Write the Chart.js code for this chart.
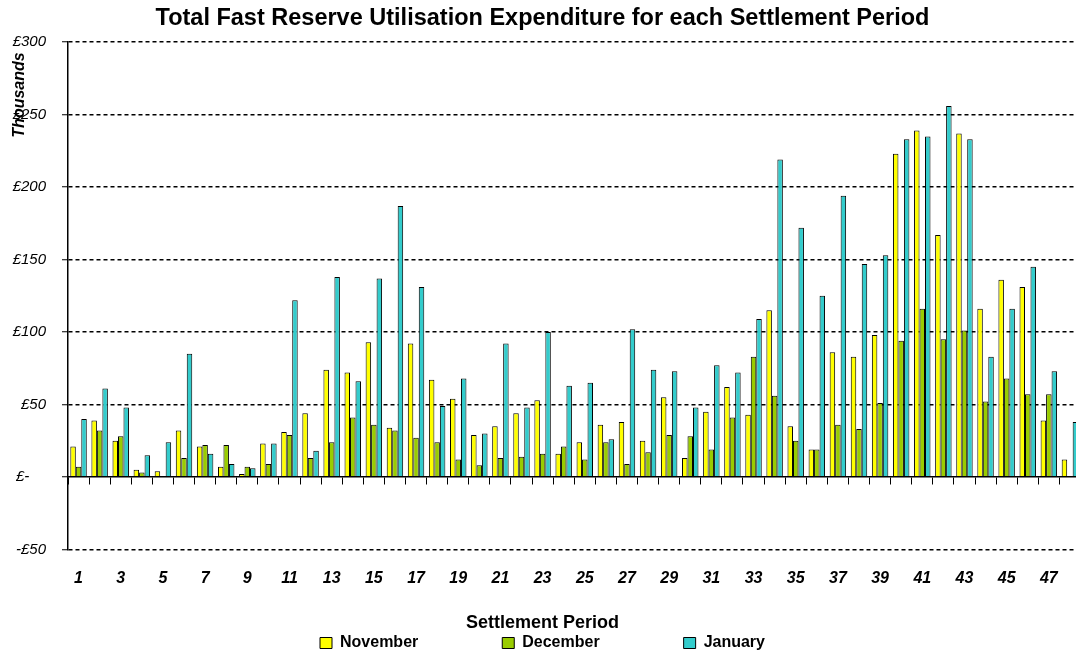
<!DOCTYPE html>
<html>
<head>
<meta charset="utf-8">
<title>Total Fast Reserve Utilisation Expenditure</title>
<script src="https://cdn.jsdelivr.net/npm/chart.js@4.4.0/dist/chart.umd.min.js"></script>
<style>
  body { margin: 0; background: #fff; }
  #wrap { position: relative; width: 1076px; height: 653px; overflow: hidden; }
</style>
</head>
<body>
<div id="wrap">
  <canvas id="chart" width="1090" height="661"></canvas>
</div>
<script>
// settlement periods 1..48
const periods = ['1','2','3','4','5','6','7','8','9','10','11','12','13','14','15','16',
  '17','18','19','20','21','22','23','24','25','26','27','28','29','30','31','32',
  '33','34','35','36','37','38','39','40','41','42','43','44','45','46','47','48'];

// values in £ thousands
const november = [21, 39, 25, 5, 4, 32, 21, 7, 2, 23, 31, 44, 74, 72, 93, 34,
  92, 67, 54, 29, 35, 44, 53, 16, 24, 36, 38, 25, 55, 13, 45, 62,
  43, 115, 35, 19, 86, 83, 98, 223, 239, 167, 237, 116, 136, 131, 39, 12];
const december = [7, 32, 28, 3, 0.5, 13, 22, 22, 7, 9, 29, 13, 24, 41, 36, 32,
  27, 24, 12, 8, 13, 14, 16, 21, 12, 24, 9, 17, 29, 28, 19, 41,
  83, 56, 25, 19, 36, 33, 51, 94, 116, 95, 101, 52, 68, 57, 57, 0.3];
const january = [40, 61, 48, 15, 24, 85, 16, 9, 6, 23, 122, 18, 138, 66, 137, 187,
  131, 49, 68, 30, 92, 48, 100, 63, 65, 26, 102, 74, 73, 48, 77, 72,
  109, 219, 172, 125, 194, 147, 153, 233, 235, 256, 233, 83, 116, 145, 73, 38];

const seriesNames = ['November', 'December', 'January'];
const seriesColors = ['#FFFF00', '#99CC00', '#33CCCC'];

const FONT = "'Liberation Sans', Arial, sans-serif";

// money format like the spreadsheet: £-, -£50, £100
function money(v) {
  if (v === 0) return '£-    ';
  if (v < 0) return '-£' + Math.abs(v);
  return '£' + v;
}

// the "Thousands" unit label sits up by the top of the value axis
const unitLabel = {
  id: 'unitLabel',
  afterDraw(chart) {
    const ctx = chart.ctx;
    ctx.save();
    ctx.translate(24, 95);
    ctx.rotate(-Math.PI / 2);
    ctx.font = 'italic bold 16px ' + FONT;
    ctx.fillStyle = '#000';
    ctx.textAlign = 'center';
    ctx.textBaseline = 'alphabetic';
    ctx.fillText('Thousands', 0, 0);
    ctx.restore();
  }
};

new Chart(document.getElementById('chart'), {
  type: 'bar',
  data: {
    labels: periods,
    datasets: [november, december, january].map((vals, i) => ({
      label: seriesNames[i],
      data: vals,
      backgroundColor: seriesColors[i],
      borderColor: '#000',
      borderWidth: 1,
      categoryPercentage: 0.78,
      barPercentage: 1
    }))
  },
  options: {
    responsive: false,
    animation: false,
    devicePixelRatio: 1,
    layout: { padding: { left: 2, right: 7, top: 0, bottom: 0 } },
    scales: {
      x: {
        grid: { display: false, drawTicks: false },
        border: { display: false },
        ticks: {
          autoSkip: false,
          maxRotation: 0,
          padding: 20,
          color: '#000',
          font: { family: FONT, size: 16, style: 'italic', weight: 'bold' },
          callback: (val, idx) => idx % 2 === 0 ? periods[idx] : ''
        },
        afterFit: s => { s.height = 41; }
      },
      // second category axis sitting on the zero line, gives the solid axis and its tick marks
      x0: {
        type: 'category',
        position: { y: 0 },
        offset: true,
        grid: { display: true, offset: true, drawOnChartArea: false, drawTicks: true,
                tickLength: 7, tickColor: '#000', tickWidth: 1 },
        border: { display: true, color: '#000', width: 1.5, z: 1 },
        ticks: { display: false },
        afterFit: s => { s.height = 0; }
      },
      y: {
        min: -50,
        max: 300,
        ticks: {
          stepSize: 50,
          padding: 16,
          color: '#000',
          font: { family: FONT, size: 15, style: 'italic' },
          callback: v => money(v)
        },
        grid: {
          color: c => (c.tick && c.tick.value === 0) ? 'rgba(0,0,0,0)' : '#000',
          lineWidth: 1.5,
          tickLength: 6,
          tickColor: '#000',
          tickWidth: 1,
          tickBorderDash: []
        },
        border: { display: true, color: '#000', width: 1.5, dash: [4, 3] },
        afterFit: s => { s.width = 66; }
      }
    },
    plugins: {
      title: {
        display: true,
        text: 'Total Fast Reserve Utilisation Expenditure for each Settlement Period',
        color: '#000',
        font: { family: FONT, size: 23.5, weight: 'bold' },
        padding: { top: 4, bottom: 10 }
      },
      legend: {
        position: 'bottom',
        title: {
          display: true,
          text: 'Settlement Period',
          color: '#000',
          font: { family: FONT, size: 18, weight: 'bold' },
          padding: { top: 24, bottom: -5 }
        },
        labels: {
          color: '#000',
          boxWidth: 12,
          boxHeight: 11,
          padding: 4,
          font: { family: FONT, size: 16, weight: 'bold' },
          generateLabels: chart => {
            const items = Chart.defaults.plugins.legend.labels.generateLabels(chart);
            // spreadsheet legend spaces its entries out widely
            items.forEach((it, i) => {
              if (i < items.length - 1) it.text = it.text + '\u2003\u2003\u2003\u2003\u2003';
              it.lineWidth = 1;
              it.strokeStyle = '#000';
            });
            return items;
          }
        }
      },
      tooltip: { enabled: false }
    }
  },
  plugins: [unitLabel]
});
</script>
</body>
</html>
